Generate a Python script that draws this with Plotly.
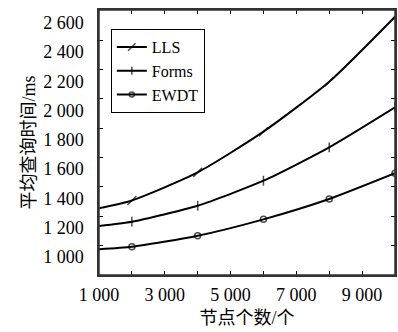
import plotly.graph_objects as go

# data
nodes = [1000, 2000, 4000, 6000, 8000, 10000]
lls = [1333, 1386, 1578, 1856, 2197, 2641]
forms = [1212, 1241, 1350, 1521, 1749, 2022]
ewdt = [1053, 1070, 1145, 1257, 1396, 1572]

x_tick_vals = [1000, 3000, 5000, 7000, 9000]
x_tick_text = ["1 000", "3 000", "5 000", "7 000", "9 000"]
x_minor_vals = [2000, 4000, 6000, 8000]
y_label_vals = [1000, 1200, 1400, 1600, 1800, 2000, 2200, 2400, 2600]
y_label_text = ["1 000", "1 200", "1 400", "1 600", "1 800", "2 000", "2 200", "2 400", "2 600"]
y_tickmark_vals = [1080, 1280, 1480, 1680, 1880, 2080, 2280, 2480]

FONT = "Liberation Serif, Times New Roman, Noto Sans CJK SC, serif"

series = [
    ("LLS", lls, "line-ne", 9),
    ("Forms", forms, "line-ns", 7),
    ("EWDT", ewdt, "circle-open", 6),
]

fig = go.Figure()
for name, vals, sym, sz in series:
    sizes = [0] + [sz] * (len(nodes) - 1)
    fig.add_trace(go.Scatter(
        x=nodes, y=vals, name=name, mode="lines+markers",
        line=dict(color="black", width=2, shape="spline", smoothing=0.6),
        marker=dict(symbol=sym, size=sizes, color="black",
                    line=dict(color="black", width=1.5)),
    ))

# plot frame
fig.add_shape(type="rect", xref="paper", yref="paper", x0=0, y0=0, x1=1, y1=1,
              line=dict(color="#333333", width=1.5), layer="above")

fig.update_layout(
    width=398, height=332,
    margin=dict(l=99, r=3, t=10, b=57),
    paper_bgcolor="white", plot_bgcolor="white",
    font=dict(family=FONT, size=18, color="black"),
    showlegend=True,
    legend=dict(x=0.04, y=0.928, xanchor="left", yanchor="top",
                bgcolor="white", bordercolor="black", borderwidth=1,
                font=dict(family=FONT, size=16, color="black"),
                itemwidth=30, tracegroupgap=0),
    xaxis=dict(range=[1000, 10000], tickmode="array", tickvals=x_tick_vals,
               ticktext=x_tick_text, ticks="inside", ticklen=4, tickcolor="black",
               minor=dict(tickmode="array", tickvals=x_minor_vals, ticks="inside",
                          ticklen=4, tickcolor="black"),
               showline=True, linecolor="#333333", linewidth=1.5, mirror="ticks",
               showgrid=False, zeroline=False, ticklabelstandoff=3,
               automargin=False,
               title=dict(text="节点个数/个", standoff=7,
                          font=dict(family=FONT, size=18))),
    yaxis=dict(range=[877, 2687], tickmode="array", tickvals=y_label_vals,
               ticktext=y_label_text, ticks="",
               minor=dict(tickmode="array", tickvals=y_tickmark_vals, ticks="inside",
                          ticklen=4, tickcolor="black"),
               showline=True, linecolor="#333333", linewidth=1.5,
               mirror="ticks", showgrid=False, zeroline=False,
               ticklabelstandoff=10, automargin=False,
               title=dict(text="平均查询时间/ms", standoff=3,
                          font=dict(family=FONT, size=18))),
)
fig.write_html("out.html", config={"displayModeBar": False},
               post_script="document.body.style.margin='0';document.body.style.padding='0';")
